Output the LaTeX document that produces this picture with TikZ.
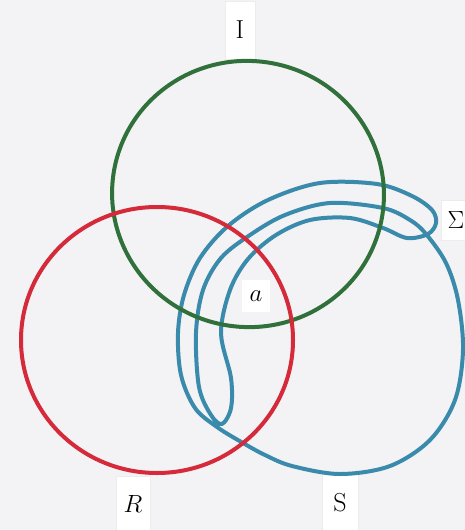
\documentclass[tikz,border=0pt]{standalone}
\begin{document}
\definecolor{bg}{RGB}{243,243,245}
\definecolor{yarngreen}{RGB}{48,112,58}
\definecolor{yarnred}{RGB}{212,42,58}
\definecolor{yarnblue}{RGB}{58,138,172}
\begin{tikzpicture}[x=1pt,y=-1pt,
  yarn/.style={line width=4pt,line join=round,line cap=round},
  tag/.style={fill=white,draw=gray!15,inner sep=5pt,font=\fontsize{26}{26}\selectfont}]
\fill[bg] (0,0) rectangle (465,530);
\useasboundingbox (0,0) rectangle (465,530);
% labels on paper strips
\node[tag,minimum width=30pt,minimum height=58pt] (lI) at (240,30) {I};
\node[tag,minimum width=34pt,minimum height=56pt,anchor=north] (lR) at (133,476) {$R$};
\node[tag,minimum width=36pt,minimum height=60pt,anchor=north] (lS) at (340,472) {S};
\node[tag,minimum width=30pt,minimum height=40pt] (lSig) at (456,220) {$\Sigma$};
\node[tag,draw=none,minimum width=28pt,minimum height=32pt] (la) at (256,296) {$a$};
% blue yarn: S circle and the folded band Sigma
\draw[yarn,yarnblue] plot[smooth cycle,tension=0.55] coordinates {
  (217,427) (195,408) (181,375) (178,333) (184,295) (200,258) (228,226)
  (268,200) (320,183) (377,184) (412,196) (432,210) (436,223) (428,234)
  (407,238) (383,228) (350,218) (310,220) (276,235) (248,259) (230,290)
  (221,333) (231,378) (231,408) (222,424) (211,415) (199,387) (196,333)
  (203,290) (221,258) (250,235) (285,215) (330,203) (383,208) (410,220)
  (426,234) (446,263) (458,300) (463,350) (455,400) (430,440) (390,466)
  (340,474) (292,466) (265,455) (243,443)};
% green yarn
\draw[yarn,yarngreen,rotate around={-10:(248,194)}] (248,194) ellipse[x radius=136pt,y radius=133pt];
% red yarn
\draw[yarn,yarnred] (157,340) ellipse[x radius=136pt,y radius=133pt];
\end{tikzpicture}
\end{document}
